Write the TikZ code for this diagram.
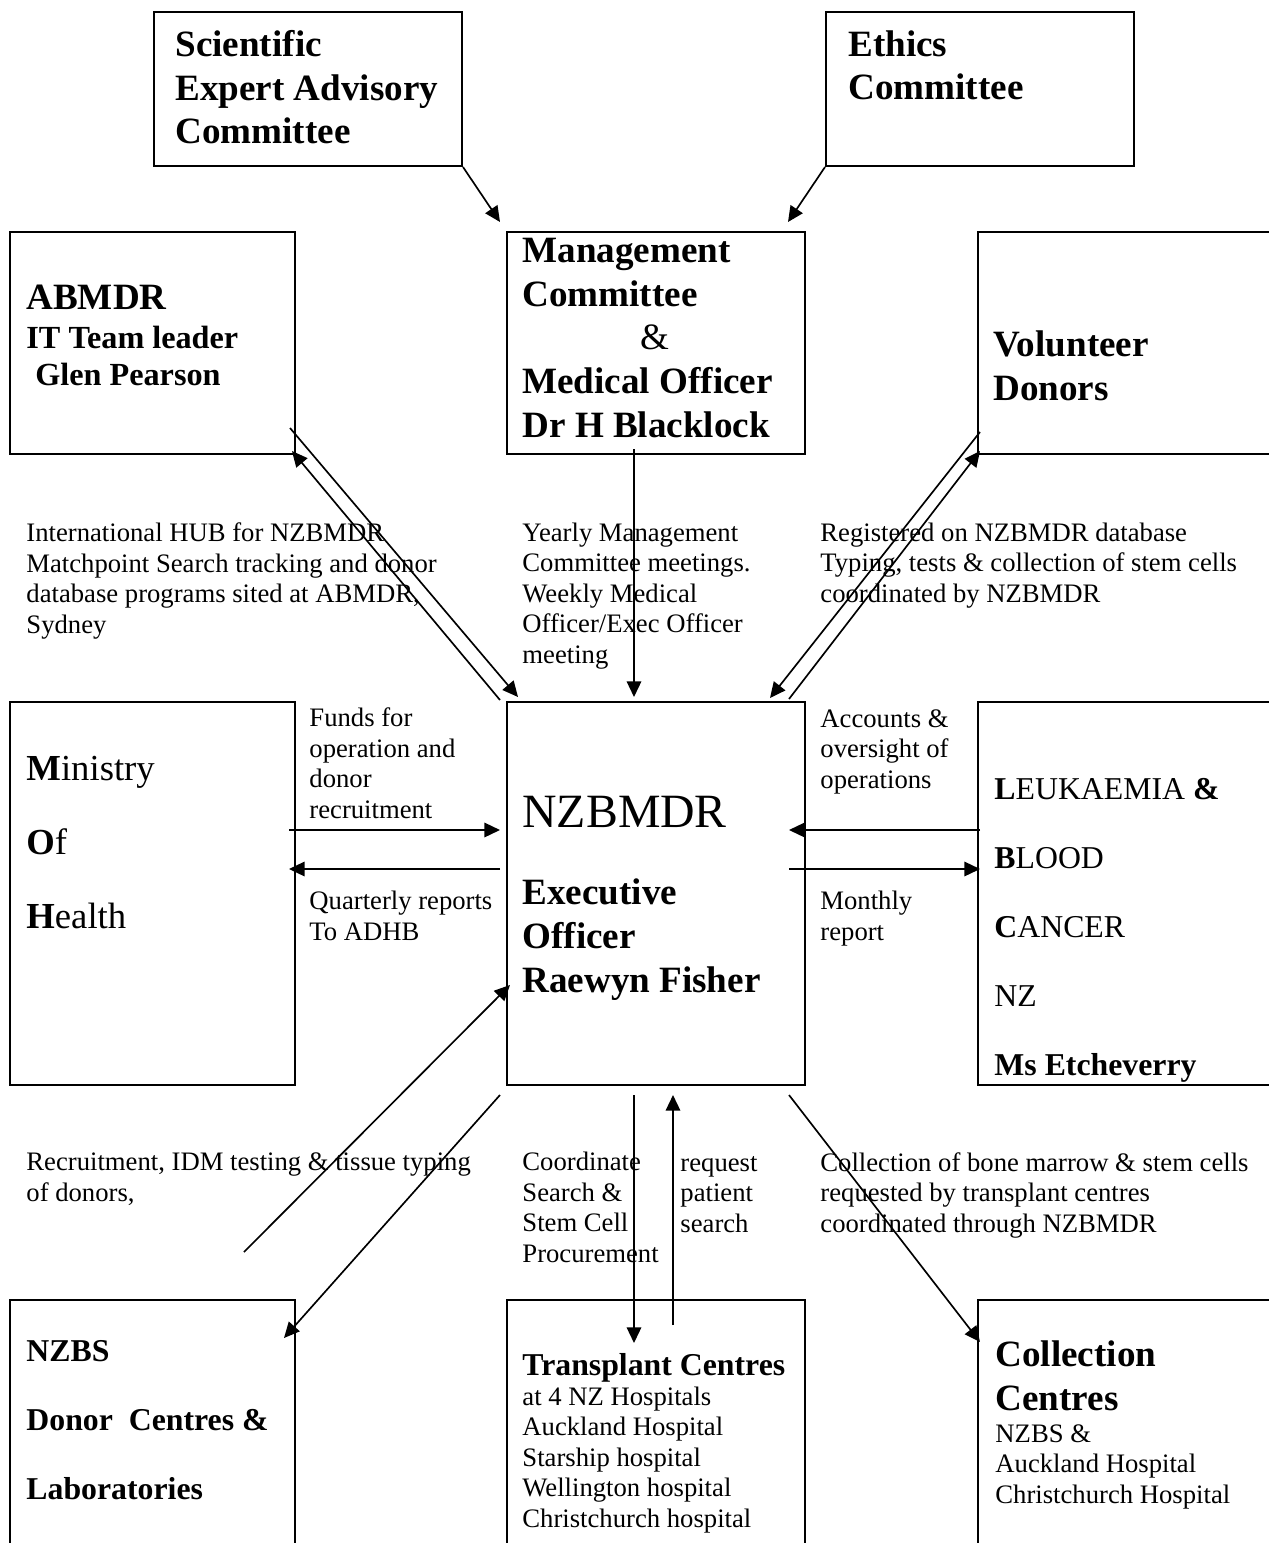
\documentclass[tikz,border=0pt]{standalone}
\usepackage{fontspec}
\setmainfont{Liberation Serif}
\usetikzlibrary{arrows.meta,fit}

\newcommand{\nzbody}{\fontsize{12}{13.7}\selectfont}
\newcommand{\nzhead}{\fontsize{16.7}{19.6}\selectfont\bfseries}
\newcommand{\nzmid}{\fontsize{14.3}{16.8}\selectfont\bfseries}

\begin{document}
\begin{tikzpicture}[
  x=0.45pt, y=-0.45pt,
  box/.style={draw, rectangle, inner sep=0pt, line width=0.9pt},
  txt/.style={anchor=base west, align=left, inner sep=0pt, font=\nzbody},
  arrow/.style={-{Triangle[length=7pt,width=6.5pt]}, line width=0.75pt},
]
\clip (0,0) rectangle (1269,1543);

% boxes
\node[box, fit={(154,12) (462,166)}] (sci) {};
\node[box, fit={(826,12) (1134,166)}] (eth) {};
\node[box, fit={(10,232) (295,454)}] (abm) {};
\node[box, fit={(507,232) (805,454)}] (mgmt) {};
\node[box, fit={(978,232) (1300,454)}] (vol) {};
\node[box, fit={(10,702) (295,1085)}] (moh) {};
\node[box, fit={(507,702) (805,1085)}] (nz) {};
\node[box, fit={(978,702) (1300,1085)}] (leuk) {};
\node[box, fit={(10,1300) (295,1570)}] (nzbs) {};
\node[box, fit={(507,1300) (805,1570)}] (trans) {};
\node[box, fit={(978,1300) (1300,1570)}] (coll) {};

% box texts (placed at the baseline of their last line)
\node[txt, font=\nzhead] (scitxt) at (175,144) {Scientific\\Expert Advisory\\Committee};
\node[txt, font=\nzhead] (ethtxt) at (848,100) {Ethics\\Committee};
\node[txt, font=\nzhead] (abmtitle) at (26,309) {ABMDR};
\node[txt, font=\fontsize{14.5}{16.6}\selectfont\bfseries] (abmtxt) at (26,385) {IT Team leader\\\hspace*{4pt}Glen Pearson};
\node[txt, font=\nzhead] (mgmttxt) at (522,437) {Management\\Committee\\\hspace*{53pt}{\mdseries\&}\\Medical Officer\\Dr H Blacklock};
\node[txt, font=\nzhead] (voltxt) at (993,400) {Volunteer\\Donors};
\node[txt, font=\fontsize{16.5}{33.3}\selectfont] (mohtxt) at (26,928) {\textbf{M}inistry\\\textbf{O}f\\\textbf{H}ealth};
\node[txt, font=\fontsize{21.5}{25}\selectfont] (nztitle) at (522,827) {NZBMDR};
\node[txt, font=\nzhead] (nztxt) at (522,992) {Executive\\Officer\\Raewyn Fisher};
\node[txt, font=\fontsize{14.3}{31}\selectfont] (leuktxt) at (994,1075) {\textbf{L}EUKAEMIA \textbf{\&}\\\textbf{B}LOOD\\\textbf{C}ANCER\\NZ\\\textbf{Ms Etcheverry}};
\node[txt, font=\fontsize{14.3}{31}\selectfont\bfseries] (nzbstxt) at (26,1499) {NZBS\\Donor\ \ Centres \&\\Laboratories};
\node[txt, font=\nzmid] (transtitle) at (522,1375) {Transplant Centres};
\node[txt] (transtxt) at (522,1527) {at 4 NZ Hospitals\\Auckland Hospital\\Starship hospital\\Wellington hospital\\Christchurch hospital};
\node[txt, font=\nzhead] (colltitle) at (995,1410) {Collection\\Centres};
\node[txt] (colltxt) at (995,1503) {NZBS \&\\Auckland Hospital\\Christchurch Hospital};

% connector labels
\node[txt] (hublbl) at (26,633) {International HUB for NZBMDR\\Matchpoint Search tracking and donor\\database programs sited at ABMDR,\\Sydney};
\node[txt] (meetlbl) at (522,663) {Yearly Management\\Committee meetings.\\Weekly Medical\\Officer/Exec Officer\\meeting};
\node[txt] (reglbl) at (820,602) {Registered on NZBMDR database\\Typing, tests \& collection of stem cells\\coordinated by NZBMDR};
\node[txt] (fundlbl) at (309,818) {Funds for\\operation and\\donor\\recruitment};
\node[txt] (qrtlbl) at (309,940) {Quarterly reports\\To ADHB};
\node[txt] (acclbl) at (820,788) {Accounts \&\\oversight of\\operations};
\node[txt] (monlbl) at (820,940) {Monthly\\report};
\node[txt] (reclbl) at (26,1201) {Recruitment, IDM testing \& tissue typing\\of donors,};
\node[txt] (coordlbl) at (522,1262) {Coordinate\\Search \&\\Stem Cell\\Procurement};
\node[txt] (reqlbl) at (680,1232) {request\\patient\\search};
\node[txt] (colllbl) at (820,1232) {Collection of bone marrow \& stem cells\\requested by transplant centres\\coordinated through NZBMDR};

% free ends
\coordinate (scitip) at (500,222);
\coordinate (ethtip) at (788,222);
\coordinate (abmout) at (290,428);
\coordinate (abmin) at (292,451);
\coordinate (nzabmin) at (518,697);
\coordinate (nzabmout) at (500,700);
\coordinate (mgmtout) at (634,449);
\coordinate (nzmgmtin) at (634,697);
\coordinate (volout) at (980,432);
\coordinate (volin) at (980,451);
\coordinate (nzvolin) at (770,698);
\coordinate (nzvolout) at (789,699);
\coordinate (mohout) at (289,830);
\coordinate (nzmohin) at (500,830);
\coordinate (nzmohout) at (500,869);
\coordinate (mohin) at (289,869);
\coordinate (leukout) at (980,830);
\coordinate (nzleukin) at (789,830);
\coordinate (nzleukout) at (789,869);
\coordinate (leukin) at (980,869);
\coordinate (recstart) at (244,1252);
\coordinate (nzrecin) at (510,985);
\coordinate (nzbsout) at (500,1095);
\coordinate (nzbsin) at (284,1338);
\coordinate (transout) at (634,1095);
\coordinate (transin) at (634,1343);
\coordinate (reqstart) at (673,1325);
\coordinate (nzreqin) at (673,1095);
\coordinate (collout) at (789,1095);
\coordinate (collin) at (980,1342);

% connectors
\draw[arrow] (sci.south east) -- (scitip);
\draw[arrow] (eth.south west) -- (ethtip);
\draw[arrow] (abmout) -- (nzabmin);
\draw[arrow] (nzabmout) -- (abmin);
\draw[arrow] (mgmtout) -- (nzmgmtin);
\draw[arrow] (volout) -- (nzvolin);
\draw[arrow] (nzvolout) -- (volin);
\draw[arrow] (mohout) -- (nzmohin);
\draw[arrow] (nzmohout) -- (mohin);
\draw[arrow] (leukout) -- (nzleukin);
\draw[arrow] (nzleukout) -- (leukin);
\draw[arrow] (recstart) -- (nzrecin);
\draw[arrow] (nzbsout) -- (nzbsin);
\draw[arrow] (transout) -- (transin);
\draw[arrow] (reqstart) -- (nzreqin);
\draw[arrow] (collout) -- (collin);

\end{tikzpicture}
\end{document}
